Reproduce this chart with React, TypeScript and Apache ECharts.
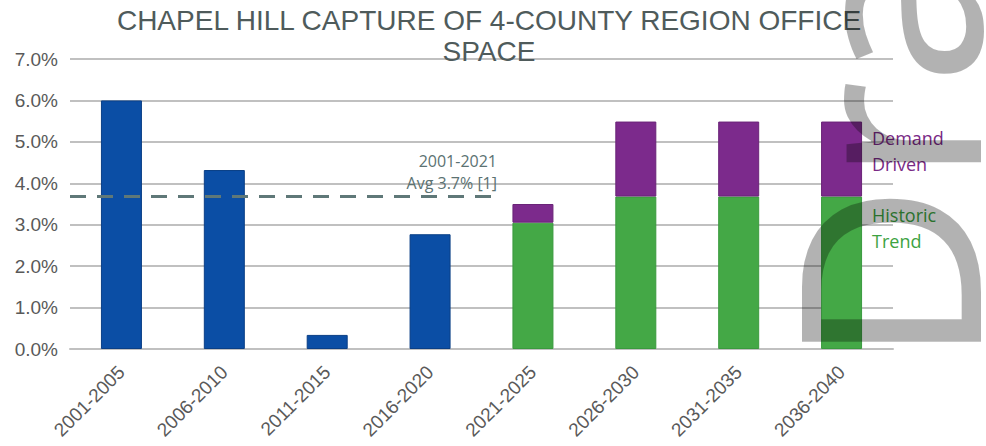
import React, { useEffect, useRef } from "react";
import * as echarts from "echarts";

const categories = [
  "2001-2005",
  "2006-2010",
  "2011-2015",
  "2016-2020",
  "2021-2025",
  "2026-2030",
  "2031-2035",
  "2036-2040",
];
const historical = [6.0, 4.32, 0.34, 2.77, null, null, null, null];
const historicTrend = [null, null, null, null, 3.05, 3.68, 3.68, 3.68];
const demandDriven = [null, null, null, null, 0.45, 1.81, 1.81, 1.81];
const avgValue = 3.68;
const avgLineSpan = [0, 4.18];
const yTicks = [0, 1, 2, 3, 4, 5, 6, 7];

const titleText = "CHAPEL HILL CAPTURE OF 4-COUNTY REGION OFFICE\nSPACE";
const avgLabel = ["2001-2021", "Avg 3.7% [1]"];

export default function App() {
  const ref = useRef<HTMLDivElement>(null);
  useEffect(() => {
    if (!ref.current) return;
    const chart = echarts.init(ref.current, null, { renderer: "svg" });
    const gridColor = "#c0c0c0";
    const option: any = {
      animation: false,
      backgroundColor: "#ffffff",
      title: {
        text: titleText,
        left: 484,
        top: 0,
        textAlign: "center",
        textStyle: {
          fontFamily: "'Liberation Sans', Arial, sans-serif",
          fontSize: 28,
          fontWeight: "normal",
          color: "#4f5b5b",
          lineHeight: 31,
        },
      },
      grid: { left: 70, right: 93, top: 59, bottom: 97, containLabel: false },
      xAxis: [
        {
          type: "category",
          data: categories,
          axisTick: { show: false },
          axisLine: { lineStyle: { color: gridColor, width: 2 } },
          axisLabel: {
            rotate: 45,
            margin: 20,
            interval: 0,
            fontFamily: "'Liberation Sans', Arial, sans-serif",
            fontSize: 19,
            color: "#595959",
          },
        },
        {
          type: "value",
          min: 0,
          max: 8,
          show: false,
        },
      ],
      yAxis: {
        type: "value",
        min: yTicks[0],
        max: yTicks[yTicks.length - 1],
        interval: 1,
        axisLine: { show: false },
        axisTick: { show: false },
        splitLine: { lineStyle: { color: gridColor, width: 2 } },
        axisLabel: {
          formatter: (v: number) => v.toFixed(1) + "%",
          fontFamily: "'Liberation Sans', Arial, sans-serif",
          fontSize: 19,
          color: "#595959",
          margin: 12,
        },
      },
      series: [
        {
          name: "Historical",
          type: "bar",
          stack: "s",
          barWidth: 41,
          data: historical,
          itemStyle: { color: "#0b4ea5", borderColor: "#0a3f86", borderWidth: 1 },
        },
        {
          name: "Historic Trend",
          type: "bar",
          stack: "s",
          barWidth: 41,
          data: historicTrend,
          itemStyle: { color: "#44a846", borderColor: "#3a9a3e", borderWidth: 1 },
        },
        {
          name: "Demand Driven",
          type: "bar",
          stack: "s",
          barWidth: 41,
          data: demandDriven,
          itemStyle: { color: "#7c2a8c", borderColor: "#6a2478", borderWidth: 1 },
        },
        {
          name: "Average",
          type: "line",
          xAxisIndex: 1,
          data: avgLineSpan.map((x) => [x, avgValue]),
          symbol: "none",
          lineStyle: { color: "#5f7878", width: 3, type: [16, 11] },
          z: 5,
        },
      ],
      graphic: [
        {
          type: "text",
          right: 986 - 497,
          top: 150,
          style: {
            text: avgLabel.join("\n"),
            font: "16px 'Open Sans', sans-serif",
            fill: "#5b7272",
            textAlign: "right",
            lineHeight: 22,
          },
          z: 10,
        },
        {
          type: "text",
          left: 872,
          top: 125,
          style: {
            text: "Demand\nDriven",
            font: "18px 'Open Sans', sans-serif",
            fill: "#7a2a86",
            lineHeight: 26,
          },
          z: 10,
        },
        {
          type: "text",
          left: 872,
          top: 202,
          style: {
            text: "Historic\nTrend",
            font: "18px 'Open Sans', sans-serif",
            fill: "#3da342",
            lineHeight: 26,
          },
          z: 10,
        },
        {
          type: "text",
          x: 884,
          y: 366,
          rotation: Math.PI / 2,
          style: {
            text: "Draft",
            font: "250px 'Noto Sans', sans-serif",
            fill: "rgba(0,0,0,0.3)",
            textAlign: "left",
            textVerticalAlign: "middle",
            verticalAlign: "middle",
          },
          z: 100,
        },
      ],
    };
    chart.setOption(option);
    return () => chart.dispose();
  }, []);
  return (
    <div
      ref={ref}
      style={{ position: "fixed", left: 0, top: 0, width: 986, height: 446 }}
    />
  );
}
